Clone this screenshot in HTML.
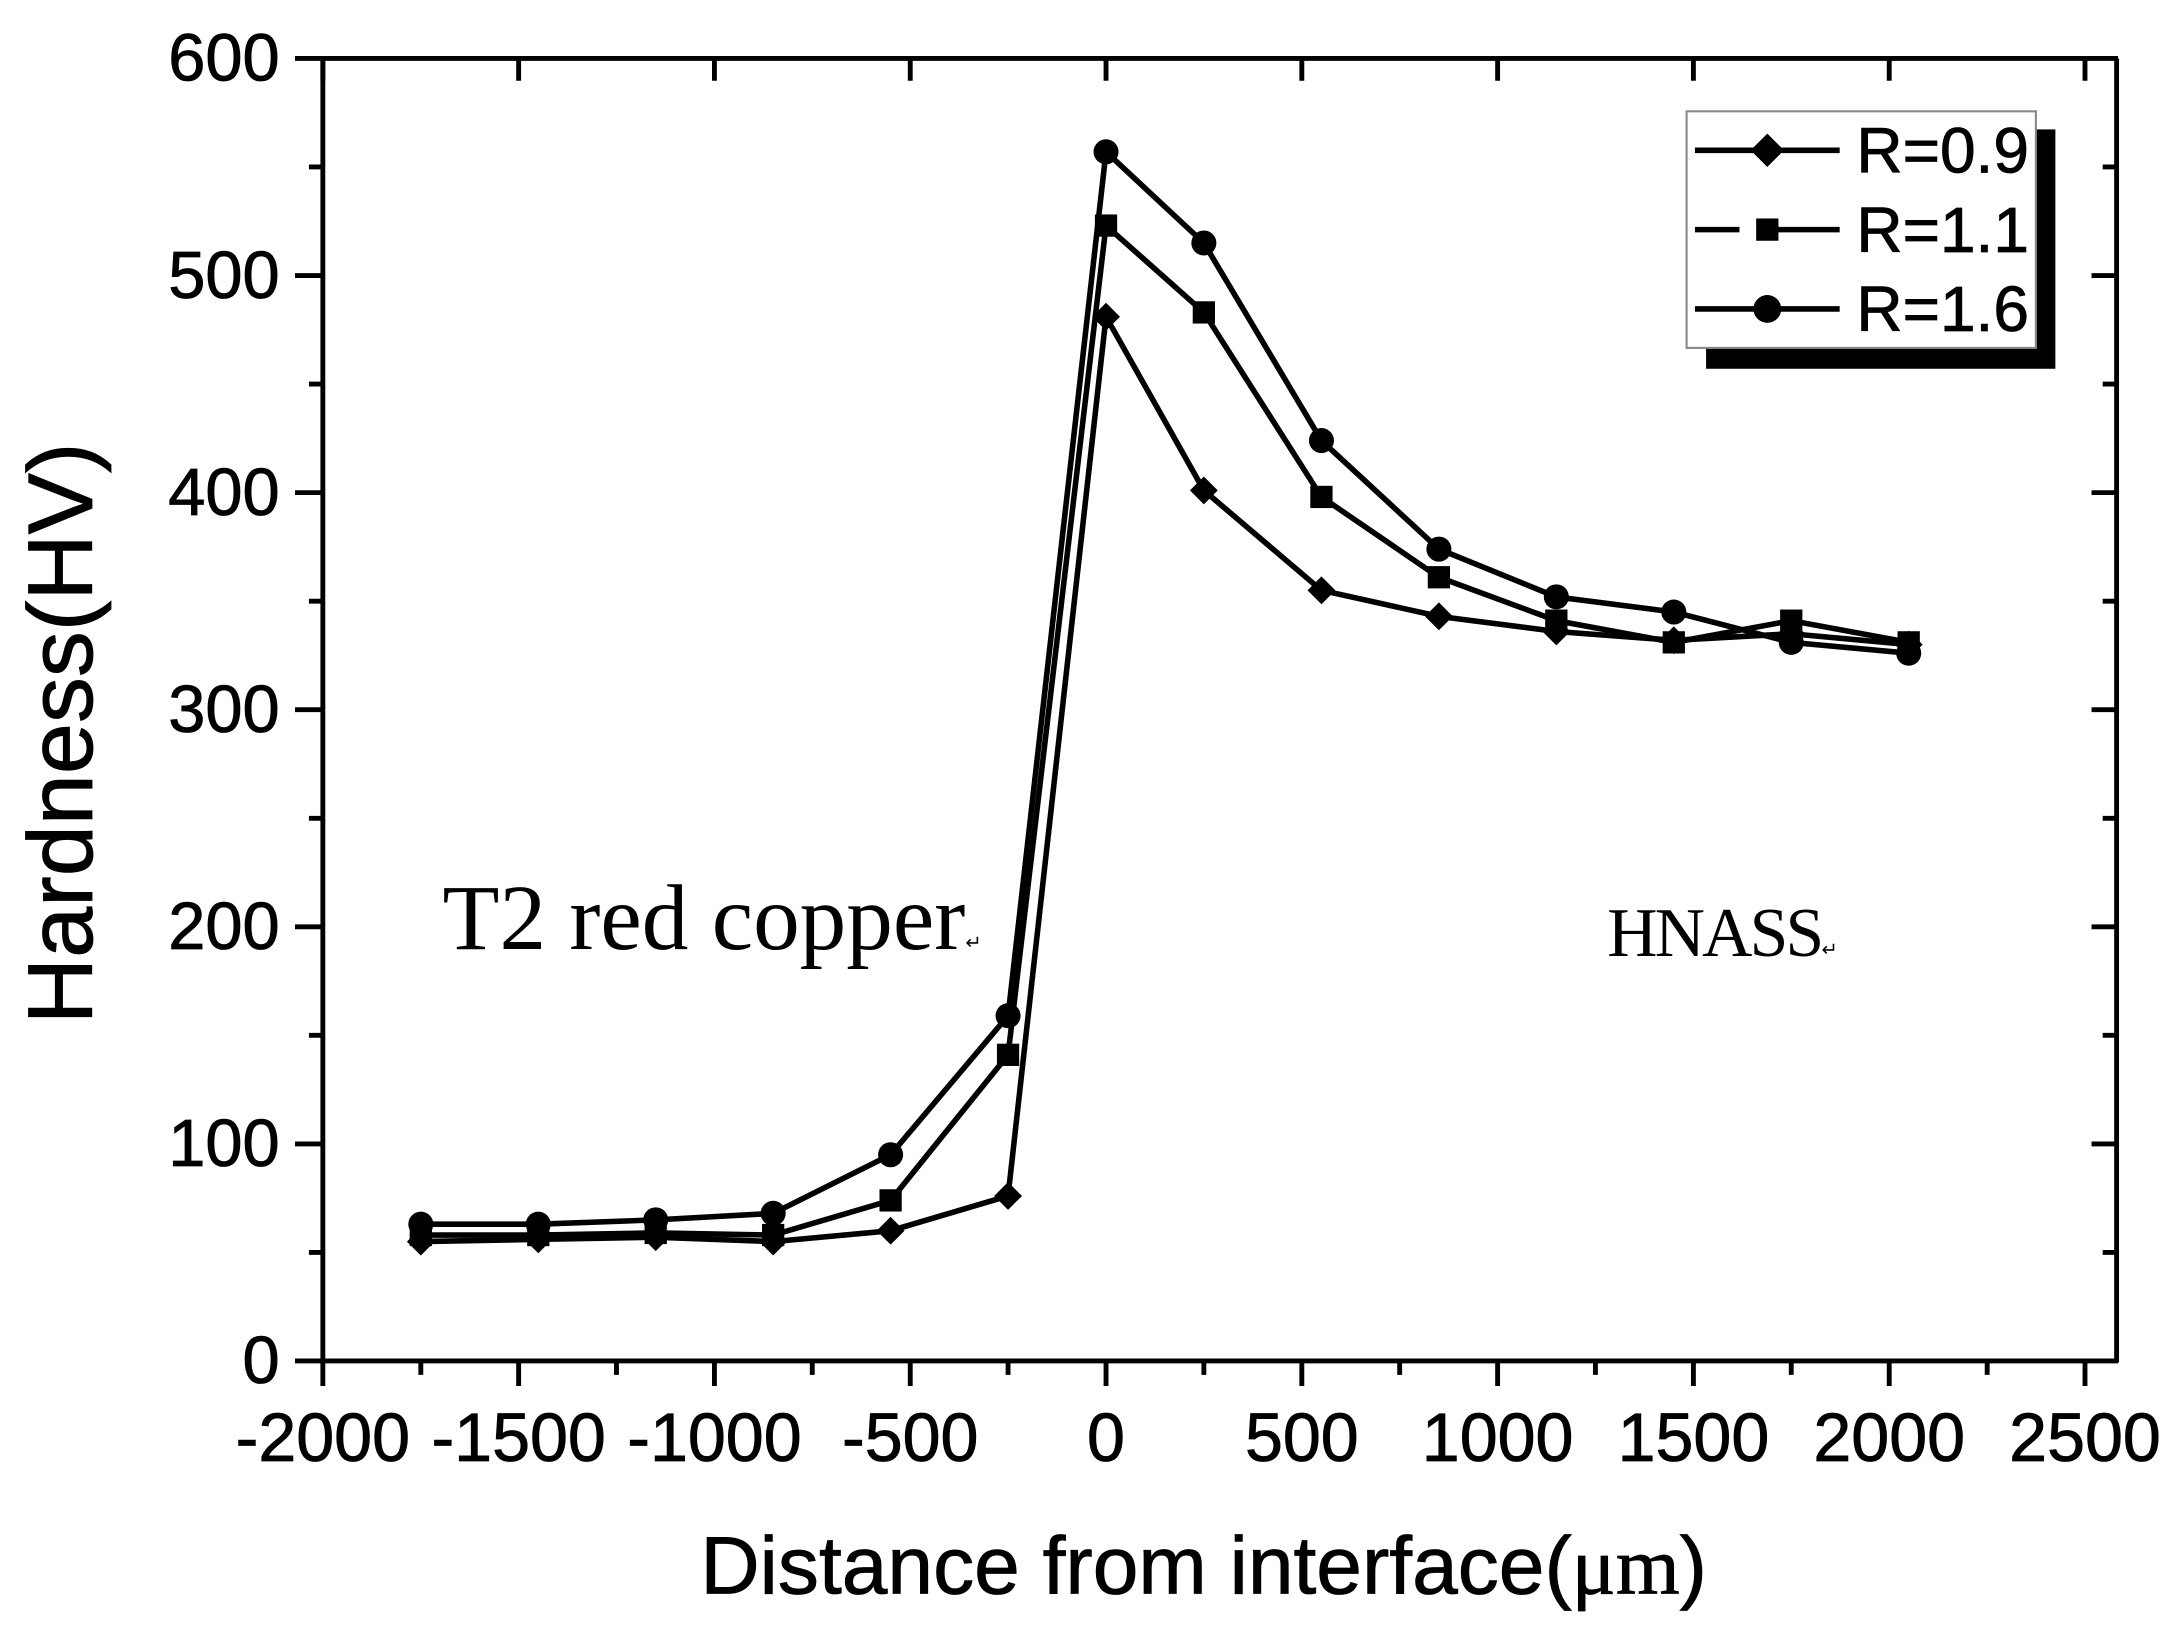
<!DOCTYPE html>
<html><head><style>html,body{margin:0;padding:0;background:#fff}svg{display:block}</style></head>
<body>
<svg width="2182" height="1640" viewBox="0 0 1568 1178.5" preserveAspectRatio="none" xmlns="http://www.w3.org/2000/svg">
<rect width="1568" height="1178.5" fill="#fff"/>
<g stroke="#000" stroke-width="3.5" fill="none">
<line x1="232" y1="42" x2="232" y2="979"/>
<line x1="1521" y1="42" x2="1521" y2="979"/>
<line x1="231" y1="978" x2="1522" y2="978"/>
<line x1="231" y1="42" x2="1522" y2="42"/>
<path d="M232,978v18M372.7,978v18M513.4,978v18M654.1,978v18M794.8,978v18M935.5,978v18M1076.2,978v18M1216.9,978v18M1357.6,978v18M1498.3,978v18"/>
<path d="M302.4,978v10M443,978v10M583.7,978v10M724.4,978v10M865.1,978v10M1005.8,978v10M1146.5,978v10M1287.2,978v10M1428,978v10"/>
<path d="M232,42v16M372.7,42v16M513.4,42v16M654.1,42v16M794.8,42v16M935.5,42v16M1076.2,42v16M1216.9,42v16M1357.6,42v16M1498.3,42v16"/>
<path d="M212,978h20M212,822h20M212,666h20M212,510h20M212,354h20M212,198h20M212,42h20"/>
<path d="M222,900h10M222,744h10M222,588h10M222,432h10M222,276h10M222,120h10"/>
<path d="M1503,822h18M1503,666h18M1503,510h18M1503,354h18M1503,198h18M1511,900h10M1511,744h10M1511,588h10M1511,432h10M1511,276h10M1511,120h10"/>
</g>
<g font-family="Liberation Sans, sans-serif" font-size="48" fill="#000" text-anchor="end" stroke="#000" stroke-width="0.6">
<text x="201" y="994">0</text><text x="201" y="838">100</text><text x="201" y="682">200</text><text x="201" y="526">300</text><text x="201" y="370">400</text><text x="201" y="214">500</text><text x="201" y="58">600</text>
</g>
<g font-family="Liberation Sans, sans-serif" font-size="49" fill="#000" text-anchor="middle" stroke="#000" stroke-width="0.6">
<text x="232" y="1050">-2000</text><text x="372.7" y="1050">-1500</text><text x="513.4" y="1050">-1000</text><text x="654.1" y="1050">-500</text><text x="794.8" y="1050">0</text><text x="935.5" y="1050">500</text><text x="1076.2" y="1050">1000</text><text x="1216.9" y="1050">1500</text><text x="1357.6" y="1050">2000</text><text x="1498.3" y="1050">2500</text>
</g>
<text x="865" y="1145" font-family="Liberation Sans, sans-serif" font-size="59" text-anchor="middle" stroke="#000" stroke-width="0.6">Distance from interface(<tspan font-family="Liberation Serif, serif">μm</tspan>)</text>
<text transform="translate(66,527) rotate(-90)" font-family="Liberation Sans, sans-serif" font-size="66" text-anchor="middle" stroke="#000" stroke-width="0.6">Hardness(HV)</text>
<text x="318" y="682" font-family="Liberation Serif, serif" font-size="67">T2 red copper<tspan font-size="14">↵</tspan></text>
<text x="1155" y="687" font-family="Liberation Serif, serif" font-size="50" letter-spacing="-2">HNASS<tspan font-size="14">↵</tspan></text>
<g stroke="#000" stroke-width="4" fill="none">
<polyline points="302.4,892.2 386.8,890.6 471.2,889.1 555.6,892.2 640,884.4 724.4,859.4 794.8,227.6 865.1,352.4 949.6,424.2 1034,442.9 1118.4,453.8 1202.8,460.1 1287.2,455.4 1371.6,463.2"/>
<polyline points="302.4,887.5 386.8,887.5 471.2,886 555.6,887.5 640,862.6 724.4,758 794.8,162.1 865.1,224.5 949.6,357.1 1034,414.8 1118.4,446 1202.8,461.6 1287.2,446 1371.6,461.6"/>
<polyline points="302.4,879.7 386.8,879.7 471.2,876.6 555.6,871.9 640,829.8 724.4,729.9 794.8,109.1 865.1,174.6 949.6,316.6 1034,394.6 1118.4,428.9 1202.8,439.8 1287.2,461.6 1371.6,469.4"/>
</g>
<g fill="#000">
<path d="M302.4,882.2l10,10l-10,10l-10,-10zM386.8,880.6l10,10l-10,10l-10,-10zM471.2,879.1l10,10l-10,10l-10,-10zM555.6,882.2l10,10l-10,10l-10,-10zM640,874.4l10,10l-10,10l-10,-10zM724.4,849.4l10,10l-10,10l-10,-10zM794.8,217.6l10,10l-10,10l-10,-10zM865.1,342.4l10,10l-10,10l-10,-10zM949.6,414.2l10,10l-10,10l-10,-10zM1034,432.9l10,10l-10,10l-10,-10zM1118.4,443.8l10,10l-10,10l-10,-10zM1202.8,450.1l10,10l-10,10l-10,-10zM1287.2,445.4l10,10l-10,10l-10,-10zM1371.6,453.2l10,10l-10,10l-10,-10z"/>
<g transform="translate(-8,-8)">
<rect x="302.4" y="887.5" width="16" height="16"/><rect x="386.8" y="887.5" width="16" height="16"/><rect x="471.2" y="886" width="16" height="16"/><rect x="555.6" y="887.5" width="16" height="16"/><rect x="640" y="862.6" width="16" height="16"/><rect x="724.4" y="758" width="16" height="16"/><rect x="794.8" y="162.1" width="16" height="16"/><rect x="865.1" y="224.5" width="16" height="16"/><rect x="949.6" y="357.1" width="16" height="16"/><rect x="1034" y="414.8" width="16" height="16"/><rect x="1118.4" y="446" width="16" height="16"/><rect x="1202.8" y="461.6" width="16" height="16"/><rect x="1287.2" y="446" width="16" height="16"/><rect x="1371.6" y="461.6" width="16" height="16"/>
</g>
<circle cx="302.4" cy="879.7" r="9"/><circle cx="386.8" cy="879.7" r="9"/><circle cx="471.2" cy="876.6" r="9"/><circle cx="555.6" cy="871.9" r="9"/><circle cx="640" cy="829.8" r="9"/><circle cx="724.4" cy="729.9" r="9"/><circle cx="794.8" cy="109.1" r="9"/><circle cx="865.1" cy="174.6" r="9"/><circle cx="949.6" cy="316.6" r="9"/><circle cx="1034" cy="394.6" r="9"/><circle cx="1118.4" cy="428.9" r="9"/><circle cx="1202.8" cy="439.8" r="9"/><circle cx="1287.2" cy="461.6" r="9"/><circle cx="1371.6" cy="469.4" r="9"/>
</g>
<rect x="1226" y="93" width="251" height="172" fill="#000"/>
<rect x="1212" y="80" width="251" height="170" fill="#fff" stroke="#888" stroke-width="1.5"/>
<g stroke="#000" stroke-width="4">
<line x1="1218" y1="108" x2="1322" y2="108"/>
<line x1="1218" y1="165" x2="1250" y2="165"/><line x1="1275" y1="165" x2="1322" y2="165"/>
<line x1="1218" y1="222" x2="1322" y2="222"/>
</g>
<path d="M1270,96l12,12l-12,12l-12,-12z" fill="#000"/>
<rect x="1262" y="157" width="16" height="16" fill="#000"/>
<circle cx="1270" cy="222" r="10" fill="#000"/>
<g font-family="Liberation Sans, sans-serif" font-size="46" fill="#000" stroke="#000" stroke-width="0.6">
<text x="1334" y="124">R=0.9</text><text x="1334" y="181">R=1.1</text><text x="1334" y="238">R=1.6</text>
</g>
</svg>
</body></html>
